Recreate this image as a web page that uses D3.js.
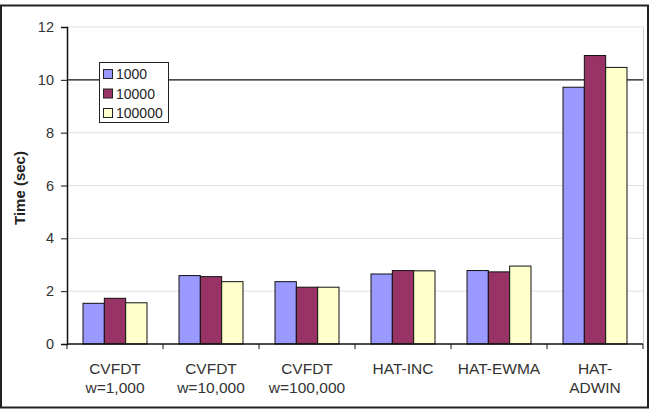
<!DOCTYPE html>
<html><head><meta charset="utf-8">
<script src="https://cdn.jsdelivr.net/npm/d3@7"></script>
<style>body{margin:0;background:#fff;}svg{display:block;font-family:Arial,"Liberation Sans",sans-serif;}</style>
</head><body>
<svg id="c" width="657" height="411"></svg>
<script>
const categories = [["CVFDT","w=1,000"],["CVFDT","w=10,000"],["CVFDT","w=100,000"],["HAT-INC"],["HAT-EWMA"],["HAT-","ADWIN"]];
const seriesNames = ["1000","10000","100000"];
const s1000 = [1.54, 2.59, 2.36, 2.65, 2.78, 9.72];
const s10000 = [1.73, 2.55, 2.15, 2.78, 2.73, 10.92];
const s100000 = [1.56, 2.36, 2.15, 2.77, 2.95, 10.47];
const colors = ["#9999FF","#993366","#FFFFCC"];
const yTicks = [0,2,4,6,8,10,12];

const series = [s1000, s10000, s100000];
const svg = d3.select("#c");
const L = 67, R = 643, T = 27, B = 344;

svg.append("rect").attr("x",1).attr("y",5.5).attr("width",647).attr("height",402)
  .attr("fill","#fff").attr("stroke","#222").attr("stroke-width",2);

const x = d3.scaleBand().domain(d3.range(categories.length)).range([L,R]).paddingInner(0).paddingOuter(0);
const xi = d3.scaleBand().domain(d3.range(3)).range([0, x.bandwidth()]).paddingInner(0).paddingOuter(0.75);
const y = d3.scaleLinear().domain([0,12]).range([B,T]);

// gridlines
svg.append("g").selectAll("line").data(yTicks.filter(d=>d>0)).join("line")
  .attr("x1",L).attr("x2",R).attr("y1",d=>y(d)).attr("y2",d=>y(d))
  .attr("stroke",d=>d===10?"#111":"#e0e0e0").attr("stroke-width",d=>d===10?1.3:1);
// plot right border
svg.append("line").attr("x1",R+0.5).attr("x2",R+0.5).attr("y1",T).attr("y2",B).attr("stroke","#ccc");

// bars
const g = svg.append("g");
categories.forEach((c,i)=>{
  series.forEach((s,j)=>{
    g.append("rect").attr("x",x(i)+xi(j)).attr("width",xi.bandwidth())
      .attr("y",y(s[i])).attr("height",y(0)-y(s[i]))
      .attr("fill",colors[j]).attr("stroke","#111").attr("stroke-width",1);
  });
});

// y axis
const ya = svg.append("g").attr("transform",`translate(${L},0)`)
  .call(d3.axisLeft(y).tickValues(yTicks).tickSize(6).tickPadding(7));
ya.select(".domain").attr("stroke","#111").attr("stroke-width",1.5);
ya.selectAll(".tick line").attr("stroke","#111");
ya.selectAll("text").attr("font-size",14.5).attr("fill","#333").attr("font-family","Arial,'Liberation Sans',sans-serif");

// x axis
const xa = svg.append("g").attr("transform",`translate(0,${B})`);
xa.append("line").attr("x1",L).attr("x2",R).attr("y1",0).attr("y2",0).attr("stroke","#111").attr("stroke-width",1.5);
xa.selectAll("line.t").data(d3.range(categories.length+1)).join("line").attr("class","t")
  .attr("x1",d=>L+d*x.bandwidth()).attr("x2",d=>L+d*x.bandwidth()).attr("y1",0).attr("y2",5).attr("stroke","#111");
categories.forEach((c,i)=>{
  const t = xa.append("text").attr("x",x(i)+x.bandwidth()/2).attr("y",29.5)
    .attr("text-anchor","middle").attr("font-size",15.5).attr("fill","#333");
  c.forEach((ln,k)=>t.append("tspan").attr("x",x(i)+x.bandwidth()/2).attr("dy",k===0?0:19.5).text(ln));
});

// y label
svg.append("text").attr("transform","translate(25,188) rotate(-90)").attr("text-anchor","middle")
  .attr("font-size",15).attr("font-weight","bold").attr("fill","#222").text("Time (sec)");

// legend
const lg = svg.append("g").attr("transform","translate(99.5,62.5)");
lg.append("rect").attr("width",69).attr("height",60).attr("fill","#fff").attr("stroke","#222");
seriesNames.forEach((n,j)=>{
  lg.append("rect").attr("x",4).attr("y",7+j*19.5).attr("width",9).attr("height",9)
    .attr("fill",colors[j]).attr("stroke","#222");
  lg.append("text").attr("x",16.5).attr("y",16.5+j*19.5).attr("font-size",14).attr("fill","#222").text(n);
});
</script>
</body></html>
